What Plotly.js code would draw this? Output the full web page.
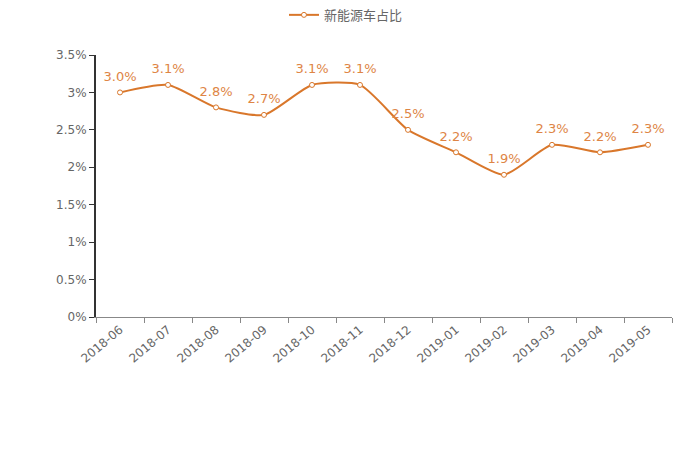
<!DOCTYPE html>
<html><head><meta charset="utf-8">
<script src="https://cdn.plot.ly/plotly-3.0.1.min.js"></script>
<style>html,body{margin:0;padding:0;background:#fff}#c{width:700px;height:466px}</style>
</head><body><div id="c"></div>
<script>
const months = ["2018-06","2018-07","2018-08","2018-09","2018-10","2018-11","2018-12","2019-01","2019-02","2019-03","2019-04","2019-05"];
const share = [3.0,3.1,2.8,2.7,3.1,3.1,2.5,2.2,1.9,2.3,2.2,2.3];
const seriesName = "新能源车占比";
const font = "'DejaVu Sans', 'Noto Sans CJK SC', sans-serif";
Plotly.newPlot('c', [{
  x: months, y: share, name: seriesName, type: 'scatter', mode: 'lines+markers',
  line: {color: '#d9772b', width: 2, shape: 'spline', smoothing: 0.6},
  marker: {size: 5, color: '#ffffff', line: {color: '#d9772b', width: 1}},
  cliponaxis: false
}, {
  x: months, y: share, type: 'scatter', mode: 'markers+text', showlegend: false, hoverinfo: 'skip',
  marker: {size: 12, color: 'rgba(0,0,0,0)'},
  texttemplate: '%{y:.1f}%', textposition: 'top center',
  textfont: {color: '#de8545', size: 13, family: font},
  cliponaxis: false
}], {
  width: 700, height: 466,
  margin: {l: 96, r: 28, t: 55, b: 149},
  paper_bgcolor: '#fff', plot_bgcolor: '#fff',
  font: {family: font, color: '#666', size: 12},
  showlegend: true,
  legend: {orientation: 'h', x: 0.434, xanchor: 'center', yref: 'container', y: 0.968, yanchor: 'middle',
           font: {size: 13, color: '#666', family: "'Noto Sans CJK SC', sans-serif"}},
  xaxis: {
    type: 'category', range: [-0.5, 11.5], showgrid: false, zeroline: false,
    showline: true, linecolor: '#888', linewidth: 1,
    ticks: 'outside', tickson: 'boundaries', ticklen: 5, tickcolor: '#888',
    tickangle: -40, tickfont: {size: 12, color: '#666'}
  },
  yaxis: {
    range: [0, 3.5], dtick: 0.5, ticksuffix: '%', showgrid: false, zeroline: false,
    showline: true, linecolor: '#333', linewidth: 2,
    ticks: 'outside', ticklen: 5, tickcolor: '#333',
    tickfont: {size: 12, color: '#666'}
  }
}, {displayModeBar: false, staticPlot: true});
</script></body></html>
